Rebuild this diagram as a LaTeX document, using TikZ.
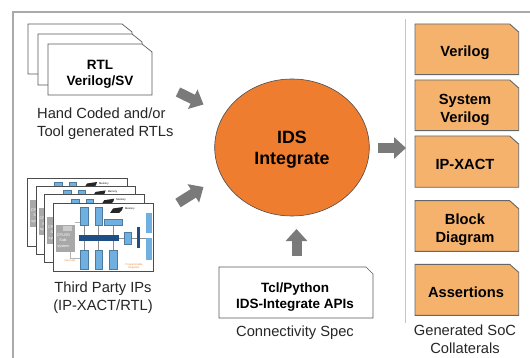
\documentclass[tikz,border=0pt]{standalone}
\usepackage{fontspec}
\setmainfont{Liberation Sans}
\usetikzlibrary{arrows.meta,shapes.geometric}
\definecolor{framegray}{HTML}{A9A9A9}
\definecolor{sepgray}{HTML}{C4C4C4}
\definecolor{arrowgray}{HTML}{7A7A7A}
\definecolor{docorange}{HTML}{F5B26C}
\definecolor{coreorange}{HTML}{EF7D30}
\definecolor{ipblue}{HTML}{6FB0E0}
\definecolor{busblue}{HTML}{1F4E85}
\definecolor{cpugray}{HTML}{A8A8A8}
\definecolor{noteorange}{HTML}{ED8B3C}
\tikzset{
  x=1pt,y=-1pt,
  framerule/.style={draw=framegray,line width=2pt},
  seprule/.style={draw=sepgray,line width=1.1pt},
  blockarrow/.style={draw=arrowgray,line width=10pt,-{Triangle[length=12pt,width=21pt]}},
  plainlabel/.style={inner sep=0pt,align=center,font=\fontsize{14.7}{18}\selectfont,text=black!85},
  boldlabel/.style={inner sep=0pt,align=center,font=\fontsize{13.5}{16.5}\selectfont\bfseries,text=black},
  outlabel/.style={inner sep=0pt,align=center,font=\fontsize{14.7}{18}\selectfont\bfseries,text=black},
  whitedoc/.style={draw=black!65,fill=white,line width=0.7pt},
  orangedoc/.style={draw=black!60,fill=docorange,line width=0.9pt},
  card/.style={draw=black!70,fill=white,line width=0.8pt},
  ipbox/.style={draw=ipblue!70!black,fill=ipblue,line width=0.2pt},
  tinytext/.style={inner sep=0pt,font=\fontsize{2.6}{3}\selectfont},
  cputext/.style={inner sep=0pt,text=white,align=center,font=\fontsize{3.8}{5.5}\selectfont},
  corenode/.style={ellipse,draw=black!70,fill=coreorange,line width=0.6pt,inner sep=0pt,
    minimum width=154.6pt,minimum height=137pt},
  corelabel/.style={inner sep=0pt,align=center,font=\fontsize{17.8}{21.5}\selectfont\bfseries},
}
\newcommand{\docpath}[6][whitedoc]{%
  \draw[#1] (#2,#3) -- ({#4-#6},#3) -- (#4,{#3+8}) -- (#4,#5) -- (#2,#5) -- cycle;}
\newcommand{\ipcard}[2]{%
  \begin{scope}[shift={(#1,#2)}]
    \draw[card] (53.5,203) rectangle (153,271);
    \draw[draw=black!30,line width=0.3pt] (75,222) -- (80,222) (70,252) -- (70,258) -- (82,258);
    \draw[draw=black!45,line width=0.4pt] (84,225) -- (84,250) (98.5,225) -- (98.5,250) (113,225) -- (113,250) (119,238) -- (146,238);
    \fill[cpugray] (56,225) rectangle (75,252);
    \fill[black!20] (63,226.5) rectangle (72,231);
    \node[cputext] at (63.5,241) {CPU/IO\\Sub-\\system};
    \draw[ipbox] (80,207) rectangle (88,225);
    \draw[ipbox] (95,207) rectangle (102,225);
    \fill[black!85] (110,213) -- (113,208.5) -- (123,207) -- (122,210) -- (119,213) -- cycle;
    \node[tinytext,anchor=west] at (125,208.5) {Memory};
    \draw[ipbox] (104,219) rectangle (122,225);
    \fill[busblue] (79,235) rectangle (119,240.5);
    \draw[ipbox] (80,250) rectangle (88,269);
    \draw[ipbox] (95,250) rectangle (102,269);
    \draw[ipbox] (109,250) rectangle (117,269);
    \draw[ipbox] (124,232) rectangle (131,244);
    \fill[busblue] (137,227) rectangle (140,248);
    \fill[ipblue] (146,213) rectangle (152,233);
    \fill[ipblue] (146,238) rectangle (152,260);
    \node[tinytext,text=noteorange] at (70,261) {Interrupts};
    \node[tinytext,text=noteorange,align=center] at (134,266) {Programmable\\Registers};
  \end{scope}}
\begin{document}
\begin{tikzpicture}
\useasboundingbox (0,0) rectangle (530,358);
\fill[white] (0,0) rectangle (530,358);
% frame
\coordinate (frameTL) at (13,12);
\coordinate (frameTR) at (530,12);
\coordinate (frameBL) at (13,358);
\draw[framerule] (frameBL) -- (frameTL) -- (frameTR);
\coordinate (sepT) at (405.7,19);
\coordinate (sepB) at (405.7,323);
\draw[seprule] (sepT) -- (sepB);
% RTL stack
\docpath{28}{24}{132}{74}{10}
\docpath{38}{34}{142}{85}{10}
\docpath{48}{44}{152}{95}{10}
\node[boldlabel] (rtl) at (100,74.5) {RTL\\Verilog/SV};
\node[plainlabel,align=left,anchor=west] (rtlcap) at (37,123.5) {Hand Coded and/or\\Tool generated RTLs};
% IP stack
\ipcard{-26}{-25}
\ipcard{-17.4}{-16.6}
\ipcard{-8.8}{-8.3}
\ipcard{0}{0}
\node[plainlabel] (ipcap) at (103,297.5) {Third Party IPs\\(IP-XACT/RTL)};
% core
\node[corenode] (core) at (292,147.5) {};
\node[corelabel] (corelbl) at (292,149.5) {IDS\\Integrate};
% block arrows
\coordinate (a1s) at (178,92);
\coordinate (a1e) at (203.5,104.5);
\coordinate (a2s) at (178,203);
\coordinate (a2e) at (203.5,187);
\coordinate (a3s) at (378,148);
\coordinate (a3e) at (406,148);
\coordinate (a4s) at (296.5,256);
\coordinate (a4e) at (296.5,229);
\draw[blockarrow] (a1s) -- (a1e);
\draw[blockarrow] (a2s) -- (a2e);
\draw[blockarrow] (a3s) -- (a3e);
\draw[blockarrow] (a4s) -- (a4e);
% API box
\draw[whitedoc] (219,267) -- (366,267) -- (373,274) -- (373,318) -- (219,318) -- cycle;
\node[boldlabel] (api) at (295,297) {Tcl/Python\\IDS-Integrate APIs};
\node[plainlabel] (apicap) at (295,332.5) {Connectivity Spec};
% output boxes
\docpath[orangedoc]{415}{24}{518.7}{74.7}{9}
\node[outlabel] (o1) at (465,52.5) {Verilog};
\docpath[orangedoc]{415}{80}{518.7}{130.7}{9}
\node[outlabel] (o2) at (465,110) {System\\Verilog};
\docpath[orangedoc]{415}{136}{518.7}{187.3}{9}
\node[outlabel] (o3) at (465,164.5) {IP-XACT};
\docpath[orangedoc]{415}{200.7}{518.7}{251.3}{9}
\node[outlabel] (o4) at (465,230) {Block\\Diagram};
\docpath[orangedoc]{415}{264.3}{518.7}{315.3}{9}
\node[outlabel] (o5) at (466,292) {Assertions};
\node[plainlabel] (outcap) at (465,339.5) {Generated SoC\\Collaterals};
\end{tikzpicture}
\end{document}
